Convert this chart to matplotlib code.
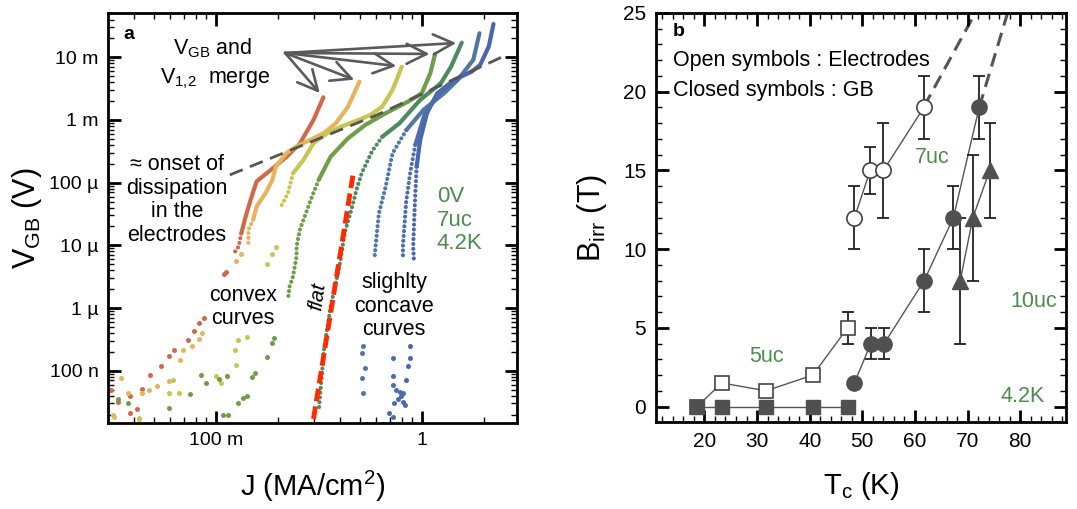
import matplotlib
matplotlib.use("Agg")
import matplotlib.pyplot as plt
from matplotlib.ticker import FixedLocator, FixedFormatter, LogLocator, NullFormatter, MultipleLocator

plt.rcParams['font.family'] = ['Liberation Sans', 'DejaVu Sans']
plt.rcParams['mathtext.fontset'] = 'custom'
plt.rcParams['mathtext.rm'] = 'Liberation Sans'
plt.rcParams['mathtext.it'] = 'Liberation Sans:italic'
plt.rcParams['mathtext.bf'] = 'Liberation Sans:bold'

# ---------------- Panel a data: J (MA/cm^2), V_GB (V) ----------------
# solid (dense) part, dense dotted trail, sparse scattered points
J_red = [0.333, 0.298, 0.256, 0.221, 0.186, 0.158, 0.150, 0.1396, 0.133]
V_red = [2.30e-3, 1.0e-3, 4.21e-4, 2.60e-4, 1.62e-4, 1.05e-4, 6.3e-5, 2.88e-5, 1.55e-5]
J_red_trail = [0.133, 0.129, 0.121]
V_red_trail = [1.55e-5, 9.5e-6, 7.1e-6]
J_red_dots = [0.112, 0.110, 0.0875, 0.0826, 0.078, 0.0736, 0.063, 0.0596,
              0.0541, 0.0482, 0.0439, 0.0383, 0.0335, 0.031, 0.0414, 0.0383]
V_red_dots = [3.8e-6, 3.5e-6, 6.9e-7, 5.75e-7, 4.3e-7, 3.1e-7, 2.14e-7, 1.7e-7,
              1.17e-7, 8.5e-8, 5.2e-8, 3.9e-8, 3.2e-8, 4.9e-8, 2.45e-8, 2.1e-8]

J_orange = [0.498, 0.4385, 0.383, 0.335, 0.287, 0.2466, 0.22, 0.196, 0.188, 0.1746, 0.158, 0.152]
V_orange = [4.08e-3, 1.63e-3, 8.9e-4, 6.2e-4, 4.8e-4, 3.8e-4, 2.95e-4, 1.82e-4, 1.10e-4, 6.8e-5, 4.2e-5, 2.57e-5]
J_orange_trail = [0.152, 0.144, 0.144]
V_orange_trail = [2.57e-5, 1.78e-5, 9.5e-6]
J_orange_dots = [0.1324, 0.126, 0.0857, 0.0826, 0.0764, 0.0695, 0.0668, 0.0596, 0.0521,
                 0.0473, 0.0439, 0.0348, 0.0376, 0.0322, 0.0422]
V_orange_dots = [7.4e-6, 5.6e-6, 4.0e-7, 3.16e-7, 2.45e-7, 2.14e-7, 1.48e-7, 6.8e-8, 5.6e-8,
                 4.9e-8, 4.4e-8, 7.6e-8, 4.4e-8, 1.86e-8, 1.74e-8]

J_yellow = [0.80, 0.721, 0.643, 0.562, 0.492, 0.4055, 0.348, 0.2985, 0.266, 0.237]
V_yellow = [7.08e-3, 3.02e-3, 1.63e-3, 1.20e-3, 1.0e-3, 7.8e-4, 6.2e-4, 4.27e-4, 2.29e-4, 1.41e-4]
J_yellow_trail = [0.237, 0.224, 0.2075]
V_yellow_trail = [1.41e-4, 6.8e-5, 4.2e-5]
J_yellow_dots = [0.196, 0.188, 0.178, 0.141, 0.128, 0.1236, 0.126, 0.100, 0.114, 0.106,
                 0.062, 0.0596, 0.066, 0.0316, 0.0422]
V_yellow_dots = [9.5e-6, 7.4e-6, 5.1e-6, 3.5e-7, 3.1e-7, 2.14e-7, 1.23e-7, 8.1e-8, 8.1e-8, 6.3e-8,
                 7.1e-8, 4.4e-8, 4.4e-8, 1.95e-8, 1.7e-8]

J_green = [1.16, 1.10, 1.0, 0.857, 0.668, 0.531, 0.4385, 0.361, 0.316]
V_green = [1.13e-2, 5.56e-3, 2.67e-3, 1.96e-3, 1.28e-3, 8.3e-4, 5.1e-4, 2.6e-4, 1.11e-4]
J_green_trail = [0.316, 0.293, 0.256, 0.2466, 0.2466, 0.237, 0.228, 0.224]
V_green_trail = [1.11e-4, 6.0e-5, 1.78e-5, 9.5e-6, 6.6e-6, 3.16e-6, 2.19e-6, 1.35e-6]
J_green_dots = [0.192, 0.187, 0.178, 0.1556, 0.15, 0.141, 0.135, 0.128, 0.114, 0.104,
                0.09, 0.085, 0.075, 0.0596, 0.0376, 0.0335, 0.109, 0.115]
V_green_dots = [3.3e-7, 2.8e-7, 1.66e-7, 9.1e-8, 8.0e-8, 3.9e-8, 3.7e-8, 3.0e-8, 8.1e-8, 7.5e-8,
                6.3e-8, 8.5e-8, 4.3e-8, 2.5e-8, 3.0e-8, 3.6e-8, 2.0e-8, 2.0e-8]

J_teal = [1.563, 1.387, 1.236, 0.982, 0.78, 0.643]
V_teal = [1.71e-2, 7.1e-3, 3.85e-3, 2.09e-3, 8.9e-4, 5.4e-4]
J_teal_trail = [0.643, 0.573, 0.5105, 0.482, 0.455, 0.4217, 0.4055, 0.398, 0.361, 0.335, 0.316]
V_teal_trail = [5.4e-4, 3.16e-4, 1.41e-4, 7.7e-5, 3.7e-5, 1.55e-5, 6.6e-6, 4.6e-6, 1.05e-6, 2.14e-7, 2.24e-8]

J_slate = [1.905, 1.778, 1.496, 1.282, 1.019, 0.841]
V_slate = [2.42e-2, 9.1e-3, 4.37e-3, 2.67e-3, 1.45e-3, 6.9e-4]
J_slate_trail = [0.841, 0.721, 0.668, 0.619, 0.596, 0.59]
V_slate_trail = [6.9e-4, 2.95e-4, 8.7e-5, 3.24e-5, 9.5e-6, 6.5e-6]
J_slate_dots = [0.521, 0.511, 0.531, 0.511, 0.521]
V_slate_dots = [2.45e-7, 1.9e-7, 1.1e-7, 7.6e-8, 4.4e-8]

J_blue = [2.228, 2.113, 1.919, 1.746, 1.439, 1.189, 1.059, 0.982, 0.944]
V_blue = [3.40e-2, 1.48e-2, 7.55e-3, 5.9e-3, 4.37e-3, 2.67e-3, 1.28e-3, 4.8e-4, 1.80e-4]
J_blue_trail = [0.944, 0.927, 0.908, 0.915]
V_blue_trail = [1.80e-4, 5.3e-5, 9.5e-6, 6.0e-6]
J_blue_dots = [0.875, 0.875, 0.857, 0.841]
V_blue_dots = [2.45e-7, 1.58e-7, 1.17e-7, 7.1e-8]

J_blue2 = [1.439, 1.19, 1.03, 0.93]
V_blue2 = [4.37e-3, 2.5e-3, 1.2e-3, 4.0e-4]
J_blue2_trail = [0.93, 0.88, 0.84, 0.81, 0.81]
V_blue2_trail = [4.0e-4, 1.5e-4, 5.0e-5, 1.0e-5, 6.0e-6]
J_blue2_dots = [0.721, 0.721, 0.721, 0.75, 0.78, 0.81, 0.794, 0.764, 0.736, 0.81, 0.826, 0.695, 0.721]
V_blue2_dots = [1.58e-7, 8.1e-8, 5.9e-8, 4.9e-8, 4.6e-8, 4.4e-8, 3.9e-8, 3.6e-8, 3.0e-8, 3.2e-8,
                2.8e-8, 2.1e-8, 1.86e-8]

curve_colors = ['#d0694a', '#e5b45c', '#c8c650', '#6e9f48', '#4e8a5e', '#4f78a4', '#4a66b0', '#4c6dab']

J_flat = [0.298, 0.466]
V_flat = [1.7e-8, 1.48e-4]
J_onset = [0.117, 0.605, 2.45]
V_onset = [1.33e-4, 1.2e-3, 1.01e-2]

yticks_a = [1e-7, 1e-6, 1e-5, 1e-4, 1e-3, 1e-2]
ylabels_a = ['100 n', '1 µ', '10 µ', '100 µ', '1 m', '10 m']
xticks_a = [0.1, 1]
xlabels_a = ['100 m', '1']

# ---------------- Panel b data: Tc (K), Birr (T) ----------------
Tc_open_c = [48.5, 51.5, 54.0, 61.7]
B_open_c = [12, 15, 15, 19]
err_open_c = [2, 1.5, 3, 2]

Tc_fill_c = [48.5, 51.6, 54.15, 61.75, 67.3, 72.2]
B_fill_c = [1.5, 4, 4, 8, 12, 19]
err_fill_c = [0.2, 1, 1, 2, 2, 2]

Tc_tri = [68.6, 71.0, 74.2]
B_tri = [8, 12, 15]
err_tri = [4, 4, 3]

Tc_open_s = [18.6, 23.3, 31.7, 40.6, 47.2]
B_open_s = [0, 1.5, 1.0, 2.0, 5.0]
err_open_s = [0, 0, 0, 0.2, 1]

Tc_fill_s = [18.6, 23.3, 31.7, 40.7, 47.2]
B_fill_s = [0, 0, 0, 0, 0]

Tc_dash1 = [61.7, 71.46]
B_dash1 = [19.05, 25]
Tc_dash2 = [72.2, 77.6]
B_dash2 = [19, 25]

GREEN = '#4d8c4d'
GRAY = '#555555'
FILL = '#505050'

fig = plt.figure(figsize=(10.77, 5.09), dpi=100)
axa = fig.add_axes([0.1006, 0.1695, 0.3795, 0.8055])
axb = fig.add_axes([0.6091, 0.1703, 0.3807, 0.8042])

# ---------------- Panel a ----------------
axa.set_xscale('log')
axa.set_yscale('log')
lines = [(J_red, V_red), (J_orange, V_orange), (J_yellow, V_yellow), (J_green, V_green),
         (J_teal, V_teal), (J_slate, V_slate), (J_blue, V_blue), (J_blue2, V_blue2)]
trails = [(J_red_trail, V_red_trail), (J_orange_trail, V_orange_trail), (J_yellow_trail, V_yellow_trail),
          (J_green_trail, V_green_trail), (J_teal_trail, V_teal_trail), (J_slate_trail, V_slate_trail),
          (J_blue_trail, V_blue_trail), (J_blue2_trail, V_blue2_trail)]
dots = [(J_red_dots, V_red_dots), (J_orange_dots, V_orange_dots), (J_yellow_dots, V_yellow_dots),
        (J_green_dots, V_green_dots), ([], []), (J_slate_dots, V_slate_dots),
        (J_blue_dots, V_blue_dots), (J_blue2_dots, V_blue2_dots)]
for (jl, vl), (jt, vt), (jd, vd), c in zip(lines, trails, dots, curve_colors):
    axa.plot(jl, vl, color=c, lw=3.0, solid_capstyle='round', solid_joinstyle='round', zorder=2)
    axa.plot(jt, vt, color=c, lw=3.0, linestyle=(0, (0.01, 1.15)), dash_capstyle='round', zorder=2)
    axa.plot(jd, vd, 'o', color=c, ms=3.6, mec='none', zorder=2)

axa.plot(J_flat, V_flat, color='#ff2a00', lw=3.5, dashes=(2.6, 1.1), zorder=3)
axa.plot(J_onset, V_onset, color=GRAY, lw=2.0, dashes=(5, 2.8), zorder=3)

axa.set_xlim(0.0301, 2.90)
axa.set_ylim(1.48e-8, 0.0514)
axa.yaxis.set_major_locator(FixedLocator(yticks_a))
axa.yaxis.set_major_formatter(FixedFormatter(ylabels_a))
axa.xaxis.set_major_locator(FixedLocator(xticks_a))
axa.xaxis.set_major_formatter(FixedFormatter(xlabels_a))
axa.yaxis.set_minor_locator(LogLocator(base=10, subs=range(2, 10), numticks=20))
axa.xaxis.set_minor_locator(LogLocator(base=10, subs=range(2, 10), numticks=20))
axa.yaxis.set_minor_formatter(NullFormatter())
axa.xaxis.set_minor_formatter(NullFormatter())

for ax in (axa, axb):
    ax.tick_params(which='both', direction='in', top=True, right=True, colors='black')
    ax.tick_params(which='major', length=9, width=2.0, labelsize=14, pad=7)
    ax.tick_params(which='minor', length=4.5, width=1.0)
    for s in ax.spines.values():
        s.set_linewidth(2.0)

axa.set_xlabel('J (MA/cm$^2$)', fontsize=21, labelpad=14)
axa.set_ylabel('V$_{\\rm GB}$ (V)', fontsize=22, labelpad=4)

axa.text(0.036, 0.948, 'a', transform=axa.transAxes, fontsize=14, fontweight='bold', ha='left', va='center')
axa.text(0.256, 0.914, 'V$_{\\rm GB}$ and', transform=axa.transAxes, fontsize=15.5, ha='center', va='center')
axa.text(0.26, 0.838, 'V$_{1{,}2}$  merge', transform=axa.transAxes, fontsize=15.5, ha='center', va='center')
axa.text(0.168, 0.543, '≈ onset of\ndissipation\nin the\nelectrodes', transform=axa.transAxes,
         fontsize=15.5, ha='center', va='center', linespacing=1.15)
axa.text(0.804, 0.494, '0V\n7uc\n4.2K', transform=axa.transAxes, fontsize=16, color=GREEN,
         ha='left', va='center', linespacing=1.15)
axa.text(0.33, 0.282, 'convex\ncurves', transform=axa.transAxes, fontsize=15.5, ha='center', va='center',
         linespacing=1.15)
axa.text(0.699, 0.284, 'slighlty\nconcave\ncurves', transform=axa.transAxes, fontsize=15.5, ha='center',
         va='center', linespacing=1.15)
axa.text(0.513, 0.309, 'flat', transform=axa.transAxes, fontsize=15, style='italic', rotation=82,
         ha='center', va='center')

arrow_origin = (0.217, 0.01172)
for jl, vl in lines[:5]:
    axa.annotate('', xy=(jl[0], vl[0]), xytext=arrow_origin, xycoords='data',
                 arrowprops=dict(arrowstyle='->,head_length=0.9,head_width=0.45', color='#5a5a5a',
                                 lw=1.9, shrinkA=0, shrinkB=4, mutation_scale=16), zorder=4)

# ---------------- Panel b ----------------
axb.plot(Tc_dash1, B_dash1, color=GRAY, lw=2.2, dashes=(4.5, 2.5), zorder=1)
axb.plot(Tc_dash2, B_dash2, color=GRAY, lw=2.2, dashes=(4.5, 2.5), zorder=1)

axb.plot(Tc_open_c, B_open_c, color=GRAY, lw=1.0, zorder=1)
axb.plot(Tc_fill_c, B_fill_c, color=GRAY, lw=1.0, zorder=1)
axb.plot(Tc_tri, B_tri, color=GRAY, lw=1.0, zorder=1)
axb.plot(Tc_open_s, B_open_s, color=GRAY, lw=1.0, zorder=1)
axb.plot(Tc_fill_s, B_fill_s, color=GRAY, lw=1.0, zorder=1)

ekw = dict(fmt='none', ecolor='#222222', elinewidth=1.3, capsize=4.5, capthick=1.3, zorder=2)
axb.errorbar(Tc_open_c, B_open_c, yerr=err_open_c, **ekw)
axb.errorbar(Tc_fill_c, B_fill_c, yerr=err_fill_c, **ekw)
axb.errorbar(Tc_tri, B_tri, yerr=err_tri, **ekw)
axb.errorbar(Tc_open_s, B_open_s, yerr=err_open_s, **ekw)

axb.plot(Tc_open_s, B_open_s, 's', ms=10, mfc='white', mec='#444444', mew=1.2, zorder=3)
axb.plot(Tc_fill_s, B_fill_s, 's', ms=10, mfc=FILL, mec=FILL, zorder=4)
axb.plot(Tc_open_c, B_open_c, 'o', ms=11, mfc='white', mec='#444444', mew=1.2, zorder=3)
axb.plot(Tc_fill_c, B_fill_c, 'o', ms=11, mfc=FILL, mec=FILL, zorder=3)
axb.plot(Tc_tri, B_tri, '^', ms=11, mfc=FILL, mec=FILL, zorder=3)

axb.set_xlim(10.8, 88.7)
axb.set_ylim(-1, 25)
axb.xaxis.set_major_locator(MultipleLocator(10))
axb.xaxis.set_minor_locator(MultipleLocator(2))
axb.yaxis.set_major_locator(MultipleLocator(5))
axb.yaxis.set_minor_locator(MultipleLocator(1))
axb.tick_params(which='major', labelsize=15)

axb.set_xlabel('T$_{\\rm c}$ (K)', fontsize=21, labelpad=14)
axb.set_ylabel('B$_{\\rm irr}$ (T)', fontsize=22, labelpad=10)

axb.text(13.9, 23.8, 'b', fontsize=14, fontweight='bold', ha='left', va='center')
axb.text(14.0, 21.95, 'Open symbols : Electrodes', fontsize=15.5, ha='left', va='center')
axb.text(14.0, 20.1, 'Closed symbols : GB', fontsize=15.5, ha='left', va='center')
axb.text(63.3, 15.85, '7uc', fontsize=15.5, color=GREEN, ha='center', va='center')
axb.text(31.7, 3.2, '5uc', fontsize=15.5, color=GREEN, ha='center', va='center')
axb.text(82.6, 6.65, '10uc', fontsize=15.5, color=GREEN, ha='center', va='center')
axb.text(80.5, 0.62, '4.2K', fontsize=15.5, color=GREEN, ha='center', va='center')

fig.savefig('out.png', dpi=100)
